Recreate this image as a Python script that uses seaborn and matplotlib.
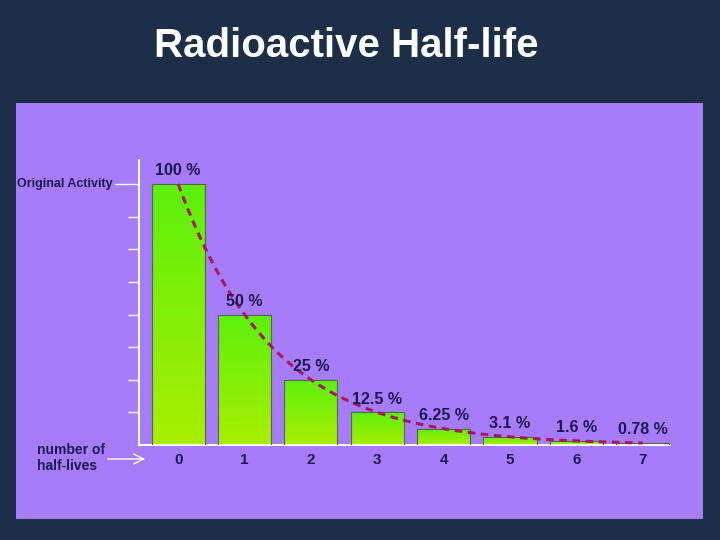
import numpy as np
import pandas as pd
import matplotlib
matplotlib.use("Agg")
import matplotlib.pyplot as plt
import seaborn as sns
from matplotlib.patches import Rectangle
from matplotlib.colors import LinearSegmentedColormap

# -------------------- datos --------------------
half_lives = [0, 1, 2, 3, 4, 5, 6, 7]
activity = [100, 50, 25, 12.5, 6.25, 3.125, 1.5625, 0.78]
bar_labels = ["100 %", "50 %", "25 %", "12.5 %", "6.25 %", "3.1 %", "1.6 %", "0.78 %"]
y_ticks = [12.5, 25, 37.5, 50, 62.5, 75, 87.5]

BG = "#1c2e48"
PANEL = "#a77cfb"
INK = "#1c1650"
CURVE = "#a8185e"

df = pd.DataFrame({"n": half_lives, "activity": activity})

sns.set_theme(style="white")
plt.rcParams["font.family"] = ["Liberation Sans", "DejaVu Sans"]

fig = plt.figure(figsize=(7.2, 5.4), dpi=100, facecolor=BG)

# panel morado (en un eje de fondo)
ax_bg = fig.add_axes([0, 0, 1, 1], zorder=0)
ax_bg.set_axis_off()
ax_bg.set_xlim(0, 720)
ax_bg.set_ylim(540, 0)
ax_bg.add_patch(Rectangle((16, 103), 687, 416, facecolor=PANEL, edgecolor="none"))

fig.text(346 / 720, 1 - 46 / 540, "Radioactive Half-life", color="white",
         fontsize=29, fontweight="bold", ha="center", va="center")

ax = fig.add_axes([139 / 720, 95 / 540, 531 / 720, 285 / 540], zorder=1)
ax.set_facecolor("none")

sns.barplot(data=df, x="n", y="activity", ax=ax, color="#6cf00a",
            width=0.8, edgecolor="#55664a", linewidth=0.8, zorder=2)

# degradado verde en cada barra
cmap = LinearSegmentedColormap.from_list("g", ["#aaee00", "#5cf00c"])
grad = np.linspace(0, 1, 256).reshape(-1, 1)
for p in ax.patches:
    x0, y0 = p.get_x(), p.get_y()
    w, h = p.get_width(), p.get_height()
    im = ax.imshow(grad, cmap=cmap, origin="lower", aspect="auto",
                   extent=[x0, x0 + w, y0, y0 + h], zorder=2.5)
    im.set_clip_path(p)
    p.set_zorder(3)
    p.set_facecolor("none")

# curva de decaimiento
xs = np.linspace(0, 7, 200)
ax.plot(xs, 100 * 0.5 ** xs, color=CURVE, linestyle=(0, (2.5, 1.8)),
        linewidth=2.2, zorder=4)

for i, (v, lab) in enumerate(zip(activity, bar_labels)):
    ax.text(i, v + 5, lab, ha="center", va="center", color=INK,
            fontsize=11.5, fontweight="bold", zorder=5)

ax.set_xlim(-0.59, 7.41)
ax.set_ylim(0, 109.2)

for s in ["top", "right"]:
    ax.spines[s].set_visible(False)
for s in ["left", "bottom"]:
    ax.spines[s].set_color("white")
    ax.spines[s].set_linewidth(1.5)

ax.set_yticks(y_ticks)
ax.set_yticklabels([])
ax.tick_params(axis="y", direction="out", length=8, width=1, color="white", left=True)
ax.set_xticks(half_lives)
ax.set_xticklabels([str(n) for n in half_lives], color=INK, fontsize=11,
                   fontweight="bold")
ax.tick_params(axis="x", length=0, pad=6)
ax.set_xlabel("")
ax.set_ylabel("")

# marca de "Original Activity"
ytr = ax.get_yaxis_transform()
ax.plot([-24 / 531, 0], [100, 100], color="white", linewidth=1,
        transform=ytr, clip_on=False)
ax.text(-26 / 531, 100, "Original Activity", transform=ytr, ha="right",
        va="center", color=INK, fontsize=9, fontweight="bold")

# etiqueta del eje x con flecha
ax_bg.text(37, 458, "number of\nhalf-lives", color=INK,
           fontsize=10, fontweight="bold", ha="left", va="center",
           linespacing=1.2)
ax_bg.annotate("", xy=(148, 459), xytext=(105, 459),
               arrowprops=dict(arrowstyle="->", color="white", lw=1,
                               mutation_scale=18))

fig.savefig("out.png", dpi=100, facecolor=BG)
